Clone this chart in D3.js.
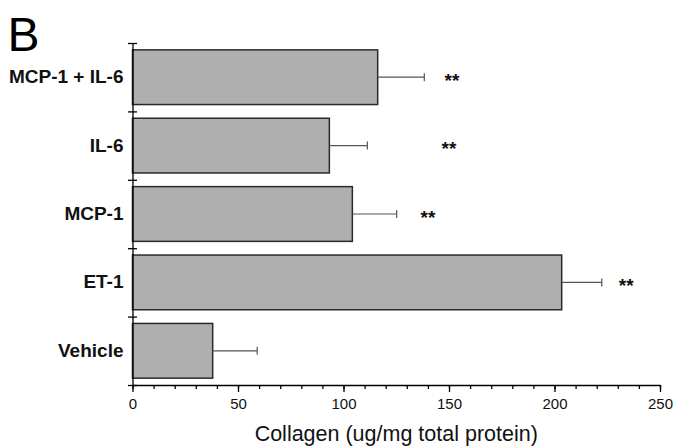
<!DOCTYPE html>
<html>
<head>
<meta charset="utf-8">
<script src="https://cdn.jsdelivr.net/npm/d3@7"></script>
<style>
  html, body { margin: 0; padding: 0; background: #fff; }
  svg { display: block; font-family: "Liberation Sans", Arial, Helvetica, sans-serif; }
</style>
</head>
<body>
<svg id="chart" width="675" height="446"></svg>
<script>
// ---- data ----
const categories = ["MCP-1 + IL-6", "IL-6", "MCP-1", "ET-1", "Vehicle"];
const means = [116.2, 93.3, 104.2, 203.4, 38.0];
const errors = [22.1, 18.0, 21.0, 19.0, 21.1];
const significance = ["**", "**", "**", "**", ""];
const starX = [151.4, 150.0, 140.0, 234.0, null];
const xTickLabels = [0, 50, 100, 150, 200, 250];
const xMinorTicks = d3.range(0, 251, 10);
const xTitle = "Collagen (ug/mg total protein)";
const panelLabel = "B";

// ---- layout ----
const W = 675, H = 446;
const margin = { top: 43, right: 15, bottom: 61, left: 132.5 };
const svg = d3.select("#chart");

const x = d3.scaleLinear().domain([0, 250]).range([margin.left, W - margin.right]);
const y = d3.scaleBand().domain(categories)
  .range([margin.top, H - margin.bottom])
  .paddingInner(0.2).paddingOuter(0.1);
const yBound = d3.scaleLinear().domain([0, categories.length])
  .range([margin.top, H - margin.bottom]);

const data = categories.map((c, i) => ({ c, m: means[i], e: errors[i], s: significance[i], sx: starX[i] }));

// bars
svg.append("g").selectAll("rect").data(data).join("rect")
  .attr("x", x(0))
  .attr("y", d => y(d.c))
  .attr("width", d => x(d.m) - x(0))
  .attr("height", y.bandwidth())
  .attr("fill", "#afafaf")
  .attr("stroke", "#2a2a2a")
  .attr("stroke-width", 1.5);

// error bars
const eg = svg.append("g").attr("stroke", "#555").attr("stroke-width", 1.2);
eg.selectAll("line.w").data(data).join("line").attr("class", "w")
  .attr("x1", d => x(d.m)).attr("x2", d => x(d.m + d.e))
  .attr("y1", d => y(d.c) + y.bandwidth() / 2)
  .attr("y2", d => y(d.c) + y.bandwidth() / 2);
eg.selectAll("line.cap").data(data).join("line").attr("class", "cap")
  .attr("x1", d => x(d.m + d.e)).attr("x2", d => x(d.m + d.e))
  .attr("y1", d => y(d.c) + y.bandwidth() / 2 - 4)
  .attr("y2", d => y(d.c) + y.bandwidth() / 2 + 4);

// significance stars
svg.append("g").selectAll("text").data(data.filter(d => d.s)).join("text")
  .attr("x", d => x(d.sx))
  .attr("y", d => y(d.c) + y.bandwidth() / 2)
  .attr("dy", "0.5em")
  .attr("text-anchor", "middle")
  .attr("font-size", 19)
  .attr("font-weight", "bold")
  .attr("fill", "#111")
  .text(d => d.s);

// x axis: minor ticks
const xMinor = svg.append("g").attr("transform", `translate(0,${H - margin.bottom})`)
  .call(d3.axisBottom(x).tickValues(xMinorTicks).tickSize(4).tickSizeOuter(0).tickFormat(""));
// x axis: major ticks and labels
const xMajor = svg.append("g").attr("transform", `translate(0,${H - margin.bottom})`)
  .call(d3.axisBottom(x).tickValues(xTickLabels).tickSize(7).tickPadding(6.5).tickFormat(d3.format("d")));
xMajor.select(".domain").remove();
xMajor.selectAll("text").attr("font-size", 15).attr("fill", "#111").attr("font-family", null);
[xMinor, xMajor].forEach(g => {
  g.selectAll("line").attr("stroke", "#000").attr("stroke-width", 1.3);
  g.selectAll(".domain").attr("stroke", "#000").attr("stroke-width", 1.3);
});

// y axis: boundary ticks crossing the axis
const yAx = svg.append("g").attr("transform", `translate(${margin.left},0)`)
  .call(d3.axisLeft(yBound).tickValues(d3.range(0, categories.length + 1)).tickSize(4.5).tickSizeOuter(0).tickFormat(""));
yAx.selectAll(".tick line").attr("x1", 4.5);
yAx.selectAll("line, .domain").attr("stroke", "#000").attr("stroke-width", 1.3);

// y axis: category labels
const yLab = svg.append("g").attr("transform", `translate(${margin.left},0)`)
  .call(d3.axisLeft(y).tickSize(0).tickPadding(9));
yLab.select(".domain").remove();
yLab.selectAll("text")
  .attr("font-size", 19).attr("font-weight", "bold").attr("fill", "#111")
  .attr("font-family", null);

// x title
svg.append("text")
  .attr("x", (x(0) + x(250)) / 2)
  .attr("y", 440.5)
  .attr("text-anchor", "middle")
  .attr("font-size", 21.5)
  .attr("fill", "#111")
  .text(xTitle);

// panel label
svg.append("text")
  .attr("x", 7.5).attr("y", 51)
  .attr("font-size", 48)
  .attr("fill", "#000")
  .text(panelLabel);
</script>
</body>
</html>
